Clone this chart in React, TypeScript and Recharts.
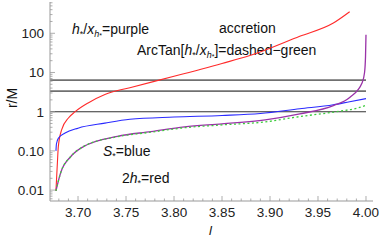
import React from "react";
import {
  ComposedChart,
  Line,
  XAxis,
  YAxis,
  ReferenceLine,
  Customized,
} from "recharts";

// 2h* (red)
const redL = [3.677, 3.6785, 3.6795, 3.683, 3.69, 3.697, 3.711, 3.728, 3.754, 3.8, 3.85, 3.879, 3.931, 3.966, 3.983];
const redR = [0.0096, 0.05, 0.13, 0.35, 0.69, 1.0, 1.7, 2.75, 4.1, 8.0, 17, 27, 84, 183, 355];

// S* (blue)
const blueL = [3.677, 3.6775, 3.6795, 3.6865, 3.7, 3.728, 3.754, 3.8, 3.85, 3.89, 3.931, 3.966, 3.983, 4.0];
const blueR = [0.1, 0.15, 0.21, 0.285, 0.38, 0.51, 0.64, 0.73, 0.8, 0.9, 1.19, 1.5, 1.8, 2.15];

// h*/x_h* (purple)
const purpleL = [3.677, 3.682, 3.6925, 3.706, 3.741, 3.776, 3.811, 3.85, 3.895, 3.931, 3.966, 3.983, 3.996, 3.9985, 3.9995, 4.0];
const purpleR = [0.0096, 0.028, 0.072, 0.13, 0.235, 0.31, 0.41, 0.49, 0.62, 0.88, 1.42, 2.3, 5.5, 10, 25, 92];

// ArcTan[h*/x_h*] (green dashed)
const greenL = [3.677, 3.682, 3.6925, 3.706, 3.741, 3.776, 3.811, 3.85, 3.895, 3.931, 3.959, 3.975, 3.99, 4.0];
const greenR = [0.0096, 0.028, 0.072, 0.13, 0.23, 0.3, 0.39, 0.46, 0.55, 0.75, 0.92, 1.05, 1.22, 1.45];

// horizontal reference radii
const refR = [6.4, 3.35, 1];
const refEnd = 4.0;

const xMajor = [3.7, 3.75, 3.8, 3.85, 3.9, 3.95, 4.0];
const xLabels = ["3.70", "3.75", "3.80", "3.85", "3.90", "3.95", "4.00"];
const yMajor = [0.01, 0.1, 1, 10, 100];
const yLabels = ["0.01", "0.10", "1", "10", "100"];

const X_DOMAIN: [number, number] = [3.6708, 4.0073];
const Y_DOMAIN: [number, number] = [0.00527, 628];

const FONT = "'Liberation Sans', Arial, sans-serif";
const FRAME = "#999";

const toRows = (ls: number[], rs: number[]) => ls.map((l, i) => ({ l, r: rs[i] }));

const xTicks: number[] = [];
for (let i = 368; i <= 400; i++) xTicks.push(i / 100);
const yTicks: number[] = [];
for (let k = -3; k <= 2; k++) {
  for (let m = 1; m <= 9; m++) {
    const v = m * Math.pow(10, k);
    if (v >= Y_DOMAIN[0] && v <= Y_DOMAIN[1]) yTicks.push(v);
  }
}

const isMajor = (list: number[], v: number) => list.findIndex((m) => Math.abs(m - v) < 1e-9 * Math.max(1, m));

const makeXTick = (side: "bottom" | "top") => (p: any) => {
  const v = p.payload.value;
  const idx = isMajor(xMajor, v);
  const len = idx >= 0 ? 5 : 2.5;
  const dir = side === "bottom" ? -1 : 1;
  return (
    <g>
      <line x1={p.x} x2={p.x} y1={p.y} y2={p.y + dir * len} stroke={FRAME} strokeWidth={0.8} />
      {side === "bottom" && idx >= 0 && (
        <text x={p.x} y={p.y + 16} textAnchor="middle" fontSize={13.5} fontFamily={FONT} fill="#222">
          {xLabels[idx]}
        </text>
      )}
    </g>
  );
};

const makeYTick = (side: "left" | "right") => (p: any) => {
  const v = p.payload.value;
  const idx = isMajor(yMajor, v);
  const len = idx >= 0 ? 5 : 2.5;
  const dir = side === "left" ? 1 : -1;
  return (
    <g>
      <line x1={p.x} x2={p.x + dir * len} y1={p.y} y2={p.y} stroke={FRAME} strokeWidth={0.8} />
      {side === "left" && idx >= 0 && (
        <text x={p.x - 6} y={p.y + 5} textAnchor="end" fontSize={13.5} fontFamily={FONT} fill="#222">
          {yLabels[idx]}
        </text>
      )}
    </g>
  );
};

const Notes = () => (
  <g fontFamily={FONT} fontSize={14} fill="#111">
    <text x={72} y={34}>
      <tspan fontStyle="italic">h</tspan>
      <tspan fontSize={9} dy={3}>*</tspan>
      <tspan dy={-3}>/</tspan>
      <tspan fontStyle="italic">x</tspan>
      <tspan fontSize={9} fontStyle="italic" dy={3}>h</tspan>
      <tspan fontSize={7} dy={1}>*</tspan>
      <tspan dy={-4}>=purple</tspan>
    </text>
    <text x={219} y={33}>accretion</text>
    <text x={137} y={55}>
      <tspan>ArcTan[</tspan>
      <tspan fontStyle="italic">h</tspan>
      <tspan fontSize={9} dy={3}>*</tspan>
      <tspan dy={-3}>/</tspan>
      <tspan fontStyle="italic">x</tspan>
      <tspan fontSize={9} fontStyle="italic" dy={3}>h</tspan>
      <tspan fontSize={7} dy={1}>*</tspan>
      <tspan dy={-4}>]=dashed−green</tspan>
    </text>
    <text x={103} y={156}>
      <tspan fontStyle="italic">S</tspan>
      <tspan fontSize={9} dy={3}>*</tspan>
      <tspan dy={-3}>=blue</tspan>
    </text>
    <text x={122} y={183}>
      <tspan>2</tspan>
      <tspan fontStyle="italic">h</tspan>
      <tspan fontSize={9} dy={3}>*</tspan>
      <tspan dy={-3}>=red</tspan>
    </text>
    <text x={0} y={0} transform="translate(17,98) rotate(-90)" textAnchor="middle">r/M</text>
    <text x={209} y={235} fontSize={13} fontStyle="italic">l</text>
  </g>
);

export default function App() {
  return (
    <div style={{ position: "absolute", left: 0, top: 0, background: "#fff" }}>
      <ComposedChart width={382} height={241} margin={{ top: 2, right: 9, bottom: 0, left: 0 }}>
        <XAxis
          dataKey="l"
          type="number"
          domain={X_DOMAIN}
          allowDataOverflow
          ticks={xTicks}
          interval={0}
          tickSize={0}
          tickMargin={0}
          tickLine={false}
          axisLine={{ stroke: FRAME }}
          tick={makeXTick("bottom")}
          height={40}
        />
        <XAxis
          xAxisId="top"
          orientation="top"
          type="number"
          domain={X_DOMAIN}
          allowDataOverflow
          ticks={xTicks}
          interval={0}
          tickSize={0}
          tickMargin={0}
          tickLine={false}
          axisLine={{ stroke: FRAME }}
          tick={makeXTick("top")}
          height={0}
        />
        <YAxis
          type="number"
          scale="log"
          domain={Y_DOMAIN}
          allowDataOverflow
          ticks={yTicks}
          interval={0}
          tickSize={0}
          tickMargin={0}
          tickLine={false}
          axisLine={{ stroke: FRAME }}
          tick={makeYTick("left")}
          width={50}
        />
        <YAxis
          yAxisId="right"
          orientation="right"
          type="number"
          scale="log"
          domain={Y_DOMAIN}
          allowDataOverflow
          ticks={yTicks}
          interval={0}
          tickSize={0}
          tickMargin={0}
          tickLine={false}
          axisLine={{ stroke: FRAME }}
          tick={makeYTick("right")}
          width={0}
        />
        {refR.map((r, i) => (
          <ReferenceLine
            key={r}
            segment={[{ x: X_DOMAIN[0], y: r }, { x: refEnd, y: r }]}
            stroke={i < 2 ? "#707070" : "#333"}
            strokeWidth={i < 2 ? 1.7 : 1.1}
          />
        ))}
        <Line data={toRows(redL, redR)} dataKey="r" type="monotone" stroke="#ff2a2a" strokeWidth={1.1} dot={false} isAnimationActive={false} />
        <Line data={toRows(blueL, blueR)} dataKey="r" type="monotone" stroke="#2a2aff" strokeWidth={1.1} dot={false} isAnimationActive={false} />
        <Line data={toRows(purpleL, purpleR)} dataKey="r" type="monotone" stroke="#9a32a8" strokeWidth={1.3} dot={false} isAnimationActive={false} />
        <Line data={toRows(greenL, greenR)} dataKey="r" type="monotone" stroke="#3ccc3c" strokeWidth={1.3} strokeDasharray="2 2.5" dot={false} isAnimationActive={false} />
        <Customized component={Notes} />
      </ComposedChart>
    </div>
  );
}
